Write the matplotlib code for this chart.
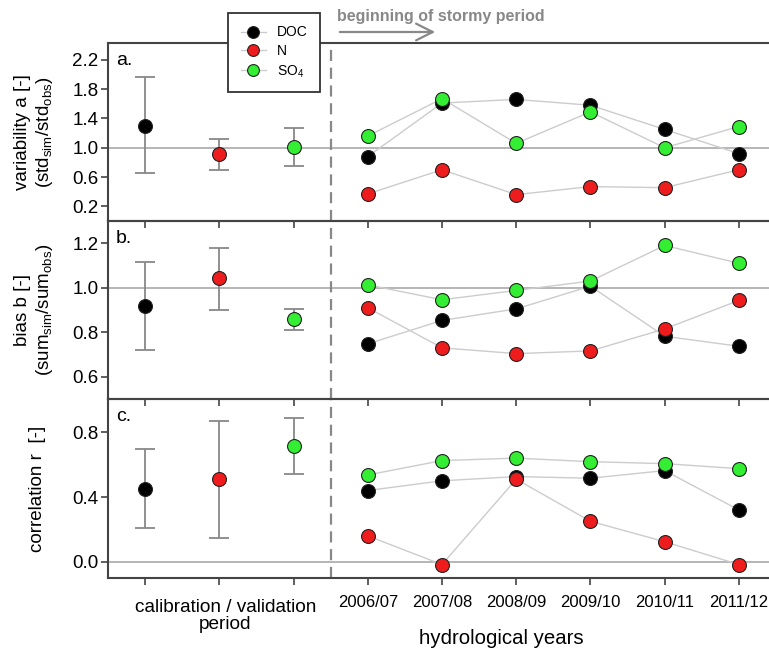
import matplotlib
matplotlib.use("Agg")
import matplotlib.pyplot as plt
from matplotlib.lines import Line2D
from matplotlib.patches import FancyArrowPatch
import numpy as np

plt.rcParams['font.family'] = ['Liberation Sans', 'DejaVu Sans']
plt.rcParams['mathtext.default'] = 'regular'

species = ['DOC', 'N', 'SO$_4$']
colors = ['#000000', '#ee1c1c', '#33ee33']
years = ['2006/07', '2007/08', '2008/09', '2009/10', '2010/11', '2011/12']

# calibration / validation period: mean, lower, upper
cal_a = [1.30, 0.91, 1.01]
cal_a_lo = [0.65, 0.70, 0.75]
cal_a_hi = [1.96, 1.12, 1.27]
cal_b = [0.92, 1.045, 0.86]
cal_b_lo = [0.72, 0.90, 0.81]
cal_b_hi = [1.115, 1.18, 0.905]
cal_r = [0.45, 0.51, 0.715]
cal_r_lo = [0.21, 0.15, 0.545]
cal_r_hi = [0.695, 0.87, 0.885]

# yearly values
a_doc = [0.88, 1.61, 1.66, 1.58, 1.25, 0.92]
a_n = [0.37, 0.70, 0.36, 0.47, 0.455, 0.70]
a_so4 = [1.16, 1.67, 1.06, 1.49, 1.00, 1.29]
b_doc = [0.748, 0.853, 0.905, 1.007, 0.782, 0.737]
b_n = [0.91, 0.73, 0.704, 0.716, 0.815, 0.943]
b_so4 = [1.013, 0.946, 0.988, 1.03, 1.19, 1.11]
r_doc = [0.44, 0.50, 0.526, 0.516, 0.563, 0.32]
r_n = [0.16, -0.017, 0.51, 0.25, 0.124, -0.017]
r_so4 = [0.536, 0.625, 0.64, 0.618, 0.606, 0.575]

panels = [
    dict(cal=cal_a, lo=cal_a_lo, hi=cal_a_hi, yrs=[a_doc, a_n, a_so4], ref=1.0,
         ylim=(0.0, 2.43), yticks=[0.2, 0.6, 1.0, 1.4, 1.8, 2.2],
         ylabel='variability a [-]\n(std$_{sim}$/std$_{obs}$)', tag='a.', lx=-0.11),
    dict(cal=cal_b, lo=cal_b_lo, hi=cal_b_hi, yrs=[b_doc, b_n, b_so4], ref=1.0,
         ylim=(0.5, 1.3), yticks=[0.6, 0.8, 1.0, 1.2],
         ylabel='bias b [-]\n(sum$_{sim}$/sum$_{obs}$)', tag='b.', lx=-0.11),
    dict(cal=cal_r, lo=cal_r_lo, hi=cal_r_hi, yrs=[r_doc, r_n, r_so4], ref=0.0,
         ylim=(-0.1, 1.005), yticks=[0.0, 0.4, 0.8],
         ylabel='correlation r  [-]', tag='c.', lx=-0.106),
]

W, H = 769, 650
fig = plt.figure(figsize=(W / 100, H / 100), dpi=100)
left = 108 / W
right = 776 / W
edges = [43, 221, 399, 578]
spine_c = '#444444'
xpos_cal = np.arange(3)
xpos_yr = np.arange(3, 9)

axes = []
for i, p in enumerate(panels):
    top, bot = edges[i], edges[i + 1]
    ax = fig.add_axes([left, 1 - bot / H, right - left, (bot - top) / H])
    axes.append(ax)
    ax.set_xlim(-0.5, 8.5)
    ax.set_ylim(*p['ylim'])
    ax.axhline(p['ref'], color='#b0b0b0', lw=1.3, zorder=1)
    ax.axvline(2.5, color='#888888', lw=1.6, ls=(0, (5, 3)), zorder=1)
    for k in range(3):
        ax.errorbar(xpos_cal[k], p['cal'][k],
                    yerr=[[p['cal'][k] - p['lo'][k]], [p['hi'][k] - p['cal'][k]]],
                    fmt='none', ecolor='#888888', elinewidth=1.3, capsize=7,
                    capthick=1.3, zorder=2)
        ax.plot(xpos_cal[k], p['cal'][k], 'o', ms=10, mfc=colors[k],
                mec='#222222', mew=0.8, zorder=4)
    for k in range(3):
        ax.plot(xpos_yr, p['yrs'][k], '-', color='#cccccc', lw=1.0, zorder=2)
        ax.plot(xpos_yr, p['yrs'][k], 'o', ms=10, mfc=colors[k],
                mec='#222222', mew=0.8, zorder=4 + (k == 2))
    ax.set_yticks(p['yticks'])
    ax.set_yticklabels([f'{v:.1f}' for v in p['yticks']])
    ax.set_xticks(np.arange(9))
    ax.set_xticklabels([])
    ax.tick_params(axis='both', direction='out', length=5, width=1.2,
                   color=spine_c, labelsize=13.5, pad=2)
    for s in ['left', 'top', 'bottom', 'right']:
        ax.spines[s].set_color(spine_c)
        ax.spines[s].set_linewidth(1.5)
    ax.set_ylabel(p['ylabel'], fontsize=13.5, linespacing=1.15)
    ax.yaxis.label.set_verticalalignment('center')
    ax.yaxis.set_label_coords(p['lx'], 0.5)
    ax.text(0.012, 0.95, p['tag'], transform=ax.transAxes, fontsize=14,
            ha='left', va='top')
    ax.patch.set_alpha(0)

axc = axes[2]
axc.set_xticklabels([''] * 3 + years)
axc.tick_params(axis='x', labelsize=12.0, pad=7)
axc.text(1.08, -0.115, 'calibration / validation\nperiod', transform=axc.get_xaxis_transform(),
         ha='center', va='top', fontsize=13.7, linespacing=1.0)
axc.text(4.8, -0.285, 'hydrological years', transform=axc.get_xaxis_transform(),
         ha='center', va='top', fontsize=14.7)

# legend
handles = [Line2D([], [], color='#cccccc', lw=1.0, marker='o', ms=8.5,
                  mfc=c, mec='#222222', mew=0.8) for c in colors]
leg = fig.legend(handles, species, loc='upper left',
                 bbox_to_anchor=(228 / W, 1 - 13 / H), borderaxespad=0,
                 frameon=True, fontsize=10, handlelength=1.8,
                 handletextpad=0.8, borderpad=0.9, labelspacing=0.35,
                 fancybox=False, edgecolor='#333333', framealpha=1)
leg.get_frame().set_linewidth(1.3)
leg.set_zorder(10)

# stormy period annotation
fig.text(337 / W, 1 - 17 / H, 'beginning of stormy period', fontsize=11.5,
         fontweight='bold', color='#888888', ha='left', va='center')
fig.add_artist(FancyArrowPatch(
    (337 / W, 1 - 32 / H), (438 / W, 1 - 32 / H), transform=fig.transFigure,
    arrowstyle='->,head_length=6,head_width=3', color='#888888', lw=1.6,
    mutation_scale=2))

fig.savefig('out.png', dpi=100)
